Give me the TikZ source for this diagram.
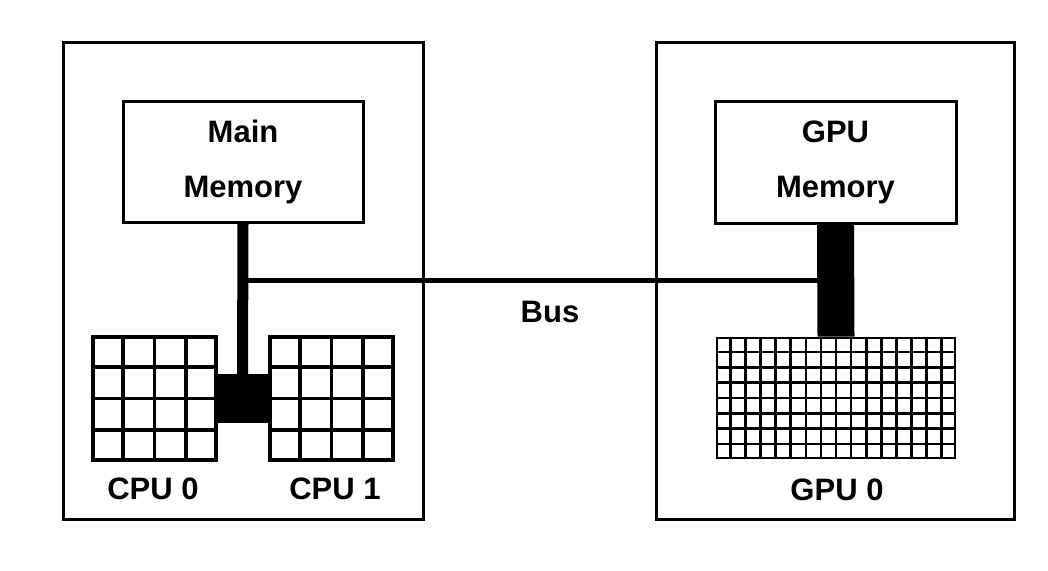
\documentclass[tikz,border=0pt]{standalone}
\usepackage{fontspec}
\setmainfont{Liberation Sans}
\usetikzlibrary{calc}
\begin{document}
\begin{tikzpicture}[x=1pt,y=-1pt,
  box/.style={draw, line width=3pt, rectangle, inner sep=0pt},
  lbl/.style={font=\fontsize{31}{55}\selectfont\bfseries, align=center, inner sep=0pt},
  gridbox/.style={draw, line width=3.2pt, rectangle, inner sep=0pt},
  gl/.style={line width=3.2pt},
  ggl/.style={line width=2.8pt},
  blackbox/.style={fill=black, draw=none, rectangle, inner sep=0pt}
]
\useasboundingbox (0,0) rectangle (1048,570);
% outer boxes
\node[box, minimum width=360pt, minimum height=477pt] (host) at (243,280.5) {};
\node[box, minimum width=358pt, minimum height=477pt] (dev) at (835,280.5) {};
% memories
\node[box, lbl, minimum width=240pt, minimum height=121pt] (mainmem) at (243,161.5) {Main\\Memory};
\node[box, lbl, minimum width=241pt, minimum height=122pt] (gpumem) at (835.5,162) {GPU\\Memory};
% grids
\node[gridbox, minimum width=123pt, minimum height=123pt] (cpu0) at (154.5,398.5) {};
\node[gridbox, minimum width=123pt, minimum height=123pt] (cpu1) at (331.5,398.5) {};
\node[box, line width=2.8pt, minimum width=238pt, minimum height=120pt] (gpu0) at (836,398) {};
\foreach \g in {cpu0,cpu1}{
  \foreach \i in {1,2,3}{
    \draw[gl] ($(\g.north west)!\i/4!(\g.north east)$) -- ($(\g.south west)!\i/4!(\g.south east)$);
    \draw[gl] ($(\g.north west)!\i/4!(\g.south west)$) -- ($(\g.north east)!\i/4!(\g.south east)$);
  }
}
\foreach \i in {1,...,15}{
  \draw[ggl] ($(gpu0.north west)!\i/16!(gpu0.north east)$) -- ($(gpu0.south west)!\i/16!(gpu0.south east)$);
}
\foreach \j in {1,...,7}{
  \draw[ggl] ($(gpu0.north west)!\j/8!(gpu0.south west)$) -- ($(gpu0.north east)!\j/8!(gpu0.south east)$);
}
% black connector block between CPUs
\node[blackbox, minimum width=57pt, minimum height=49pt] (blk) at (242.5,398.5) {};
% bus
\coordinate (busL) at (243,280);
\coordinate (busR) at (835.5,280);
\draw[line width=5pt] (busL) -- (busR);
% bars
\draw[line width=11pt] (mainmem.south) -- (blk.north);
\draw[line width=37pt] (gpumem.south) -- (gpu0.north);
% labels
\node[lbl] (cpu0lbl) at ($(cpu0.south)+(-1.5,27)$) {CPU 0};
\node[lbl] (cpu1lbl) at ($(cpu1.south)+(3.5,27)$) {CPU 1};
\node[lbl] (gpu0lbl) at ($(gpu0.south)+(1,30)$) {GPU 0};
\node[lbl] (buslbl) at (550,312) {Bus};
\end{tikzpicture}
\end{document}
